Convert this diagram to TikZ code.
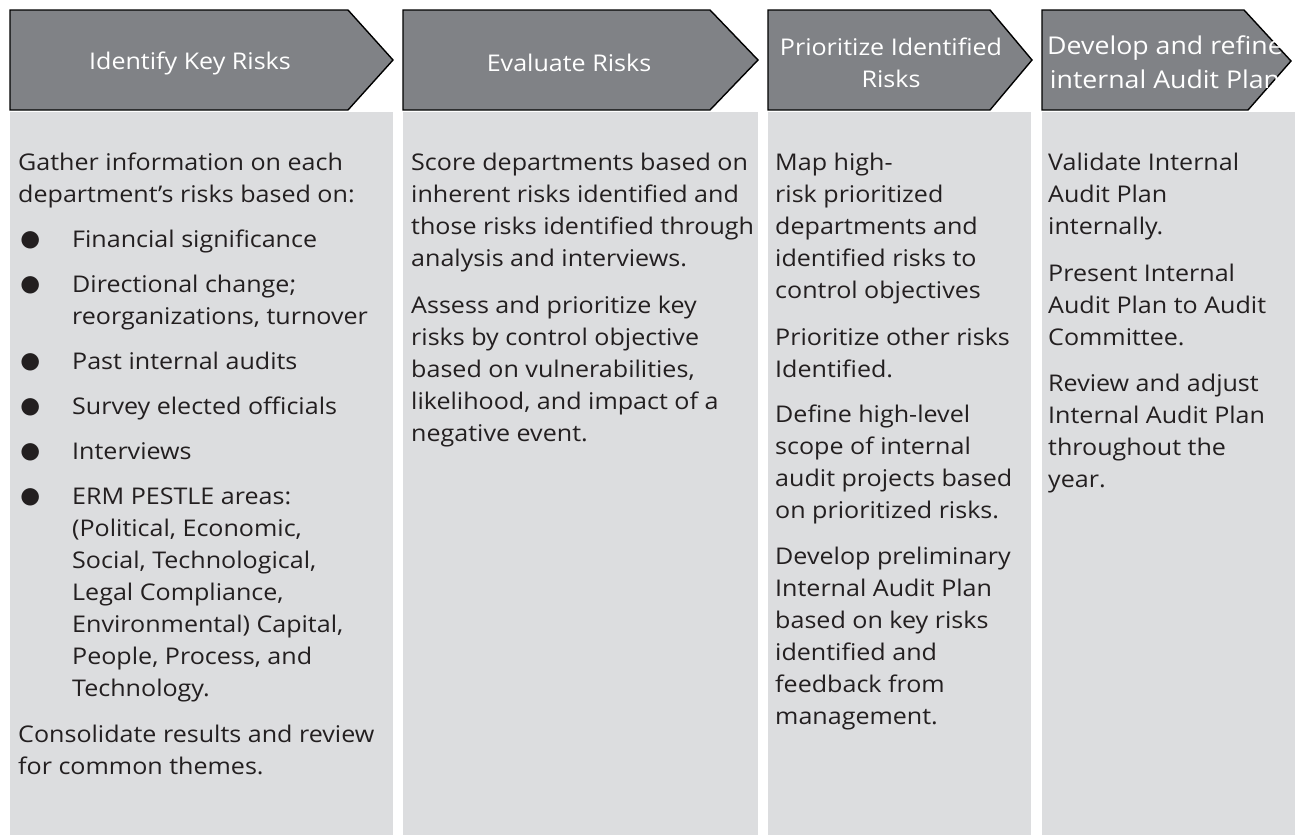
\documentclass[tikz,border=0pt]{standalone}
\usepackage{fontspec}
\setmainfont{Open Sans}[FakeStretch=1.09]
\usetikzlibrary{positioning}
\definecolor{headgray}{RGB}{128,130,134}
\definecolor{panelgray}{RGB}{220,221,223}
\definecolor{ink}{RGB}{35,31,32}

% bullet with hanging indent for the first column list
\newcommand{\dotitem}{\makebox[54pt][l]{\hspace*{1pt}\raisebox{-3.5pt}{\scalebox{1.8}{$\bullet$}}}}
\newcommand{\hang}{\hspace*{54pt}}

\begin{document}
\begin{tikzpicture}[
  x=1pt, y=-1pt,
  head/.style={draw=black, line width=1.4pt, fill=headgray, line join=miter},
  headtext/.style={text=white, align=center, inner sep=0pt, font=\fontsize{23}{32}\selectfont},
  panel/.style={rectangle, fill=panelgray, anchor=north west, inner sep=0pt, minimum height=723pt},
  bodytext/.style={inner sep=0pt, align=left, text=ink, font=\fontsize{23}{32}\selectfont},
]
\useasboundingbox (0,0) rectangle (1295,835);

%% Headers
\draw[head] (10,10)   -- (348,10)  -- (393,60)  -- (348,110)  -- (10,110)   -- cycle;
\draw[head] (403,10)  -- (710,10)  -- (758,60)  -- (710,110)  -- (403,110)  -- cycle;
\draw[head] (768,10)  -- (990,10)  -- (1032,60) -- (990,110)  -- (768,110)  -- cycle;
\draw[head] (1042,10) -- (1244,10) -- (1291,61) -- (1248,110) -- (1042,110) -- cycle;

\node[headtext] (headA) at (190,63)  {Identify Key Risks};
\node[headtext] (headB) at (569,63)  {Evaluate Risks};
\node[headtext] (headC) at (891,63)  {Prioritize Identified\\Risks};
\node[headtext, font=\fontsize{24.5}{34}\selectfont] (headD) at (1165,62) {Develop and refine\\internal Audit Plan};

%% Panels
\node[panel, minimum width=383pt] (panelA) at (10,112)   {};
\node[panel, minimum width=355pt] (panelB) at (403,112)  {};
\node[panel, minimum width=263pt] (panelC) at (768,112)  {};
\node[panel, minimum width=253pt] (panelD) at (1042,112) {};

%% Panel texts
\node[bodytext, below right=41pt and 8pt of panelA.north west] (textA) {%
  Gather information on each\\
  department’s risks based on:\\[13pt]
  \dotitem Financial significance\\[13pt]
  \dotitem Directional change;\\
  \hang reorganizations, turnover\\[13pt]
  \dotitem Past internal audits\\[13pt]
  \dotitem Survey elected officials\\[13pt]
  \dotitem Interviews\\[13pt]
  \dotitem ERM PESTLE areas:\\
  \hang (Political, Economic,\\
  \hang Social, Technological,\\
  \hang Legal Compliance,\\
  \hang Environmental) Capital,\\
  \hang People, Process, and\\
  \hang Technology.\\[14pt]
  Consolidate results and review\\
  for common themes.};

\node[bodytext, below right=41pt and 8pt of panelB.north west] (textB) {%
  Score departments based on\\
  inherent risks identified and\\
  those risks identified through\\
  analysis and interviews.\\[15pt]
  Assess and prioritize key\\
  risks by control objective\\
  based on vulnerabilities,\\
  likelihood, and impact of a\\
  negative event.};

\node[bodytext, below right=41pt and 7pt of panelC.north west] (textC) {%
  Map high-\\
  risk prioritized\\
  departments and\\
  identified risks to\\
  control objectives\\[15pt]
  Prioritize other risks\\
  Identified.\\[13pt]
  Define high-level\\
  scope of internal\\
  audit projects based\\
  on prioritized risks.\\[14pt]
  Develop preliminary\\
  Internal Audit Plan\\
  based on key risks\\
  identified and\\
  feedback from\\
  management.};

\node[bodytext, below right=41pt and 6pt of panelD.north west] (textD) {%
  Validate Internal\\
  Audit Plan\\
  internally.\\[15pt]
  Present Internal\\
  Audit Plan to Audit\\
  Committee.\\[14pt]
  Review and adjust\\
  Internal Audit Plan\\
  throughout the\\
  year.};

\end{tikzpicture}
\end{document}
